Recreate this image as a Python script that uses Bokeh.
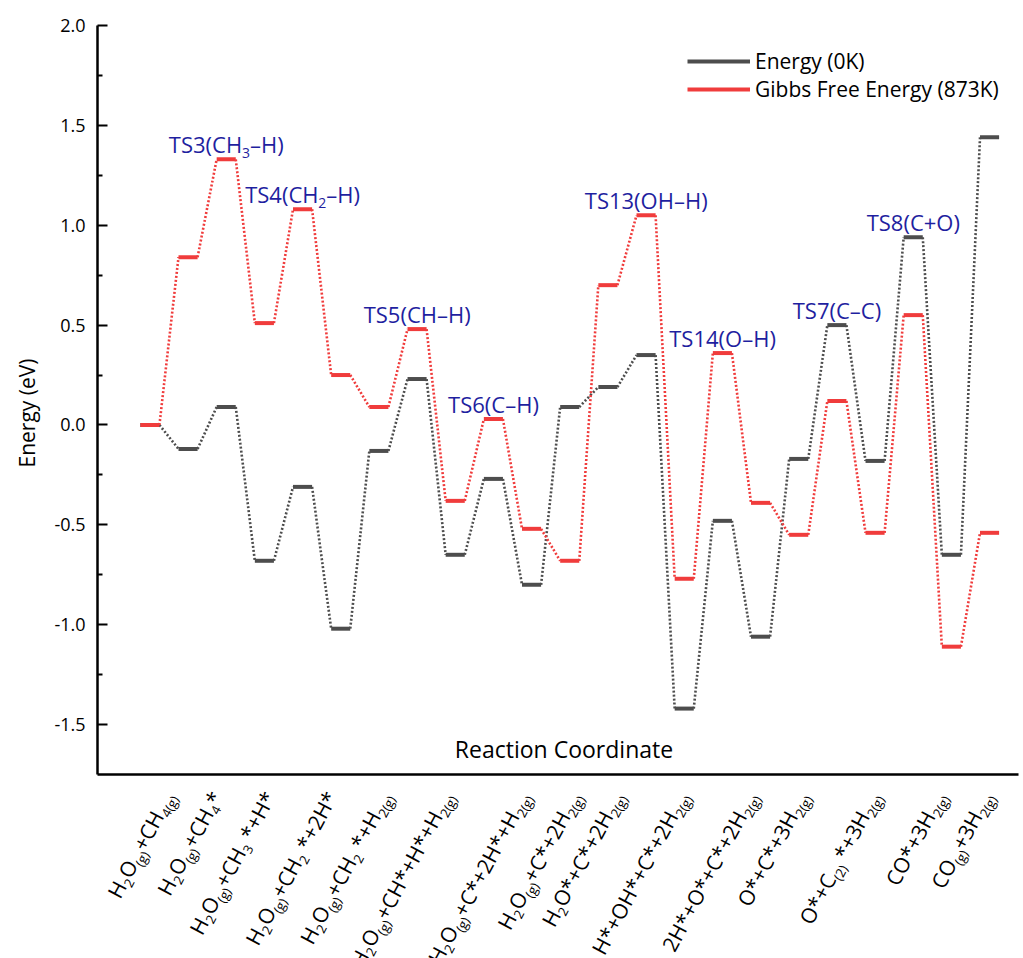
import re
import math
from bokeh.plotting import figure
from bokeh.layouts import column
from bokeh.models import Label, Legend, LegendItem, FixedTicker, Range1d, NumeralTickFormatter, Title
from bokeh.embed import file_html
from bokeh.resources import INLINE

# ---------------- data ----------------
energy_0k = [0.00, -0.12, 0.09, -0.68, -0.31, -1.02, -0.13, 0.23, -0.65, -0.27, -0.80,
             0.09, 0.19, 0.35, -1.42, -0.48, -1.06, -0.17, 0.50, -0.18, 0.94, -0.65, 1.44]
gibbs_873k = [0.00, 0.84, 1.33, 0.51, 1.08, 0.25, 0.09, 0.48, -0.38, 0.03, -0.52,
              -0.68, 0.70, 1.05, -0.77, 0.36, -0.39, -0.55, 0.12, -0.54, 0.55, -1.11, -0.54]

# state labels (_{...} = subscript) and where each label ends along the reaction coordinate
state_labels = [
    "H_{2}O_{(g)}+CH_{4(g)}",
    "H_{2}O_{(g)}+CH_{4}*",
    "H_{2}O_{(g)}+CH_{3} *+H*",
    "H_{2}O_{(g)}+CH_{2} *+2H*",
    "H_{2}O_{(g)}+CH_{2} *+H_{2(g)}",
    "H_{2}O_{(g)}+CH*+H*+H_{2(g)}",
    "H_{2}O_{(g)}+C*+2H*+H_{2(g)}",
    "H_{2}O_{(g)}+C*+2H_{2(g)}",
    "H_{2}O*+C*+2H_{2(g)}",
    "H*+OH*+C*+2H_{2(g)}",
    "2H*+O*+C*+2H_{2(g)}",
    "O*+C*+3H_{2(g)}",
    "O*+C_{(2)} *+3H_{2(g)}",
    "CO*+3H_{2(g)}",
    "CO_{(g)}+3H_{2(g)}",
]
label_pos = [0.65, 1.91, 3.30, 4.92, 6.33, 7.95, 9.96, 11.30, 12.42,
             14.12, 15.92, 17.26, 19.14, 20.86, 22.09]

ts_index = [2, 4, 7, 9, 13, 15, 18, 20]
ts_labels = ["TS3(CH_{3}\u2013H)", "TS4(CH_{2}\u2013H)", "TS5(CH\u2013H)", "TS6(C\u2013H)",
             "TS13(OH\u2013H)", "TS14(O\u2013H)", "TS7(C\u2013C)", "TS8(C+O)"]

y_ticks = [-1.5, -1.0, -0.5, 0.0, 0.5, 1.0, 1.5, 2.0]
series_names = ["Energy (0K)", "Gibbs Free Energy (873K)"]

# ---------------- style / layout ----------------
FONT = "Open Sans"
BLACK = "#4d4d4d"
RED = "#f03c3c"
BLUE = "#1f1fa0"
W = 1020
TOP_H, BOT_H = 776, 182
BL, BR, BT, BB = 95, 2, 25, 2
K = 38.25                      # pixels per reaction step
X0 = -1.3725
X1 = X0 + (W - BL - BR) / K
Y0, Y1 = -1.75, 2.0
HW = 0.25
BASE_FIX = 0.41                # baseline correction for horizontal labels (fraction of font size)
MID = 0.35                     # baseline -> text middle (fraction of font size)

# approximate Open Sans advance widths (em)
CW = {' ': 0.26, '(': 0.29, ')': 0.29, '*': 0.545, '+': 0.572, '\u2013': 0.5,
      'C': 0.635, 'H': 0.738, 'O': 0.781, 'S': 0.535, 'T': 0.556, 'g': 0.55}
for d in "0123456789":
    CW[d] = 0.572


def text_w(t, size):
    return sum(CW.get(ch, 0.56) for ch in t) * size


def parse(lab):
    parts = re.split(r'_\{([^}]*)\}', lab)
    out = []
    for k, part in enumerate(parts):
        for sp in re.split(r'( )', part):
            if sp:
                out.append((sp, k % 2 == 1))
    return out


p = figure(width=W, height=TOP_H, x_range=Range1d(X0, X1), y_range=Range1d(Y0, Y1),
           output_backend="svg", toolbar_location=None,
           min_border_left=BL, min_border_right=BR, min_border_top=BT, min_border_bottom=BB)
p.outline_line_color = None
p.xgrid.visible = False
p.ygrid.visible = False

# axes
p.xaxis.ticker = FixedTicker(ticks=[])
p.xaxis.major_tick_in = 0
p.xaxis.major_tick_out = 0
p.xaxis.minor_tick_in = 0
p.xaxis.minor_tick_out = 0
p.xaxis.major_label_standoff = 0
p.xaxis.axis_line_width = 2.5
p.xaxis.axis_line_color = "black"
p.xaxis.major_label_text_font_size = "0px"

p.yaxis.ticker = FixedTicker(ticks=y_ticks, minor_ticks=[t + 0.25 for t in y_ticks[:-1]])
p.yaxis.formatter = NumeralTickFormatter(format="0.0")
p.yaxis.axis_line_width = 2.5
p.yaxis.axis_line_color = "black"
p.yaxis.major_tick_in = 10
p.yaxis.major_tick_out = 0
p.yaxis.minor_tick_in = 5
p.yaxis.minor_tick_out = 0
p.yaxis.major_tick_line_width = 2
p.yaxis.minor_tick_line_width = 2
p.yaxis.major_tick_line_color = "black"
p.yaxis.minor_tick_line_color = "black"
p.yaxis.major_label_text_font = FONT
p.yaxis.major_label_text_font_size = "18px"
p.yaxis.major_label_text_color = "black"
p.yaxis.major_label_standoff = 12

p.add_layout(Title(text="Energy (eV)", align="left", offset=307, standoff=21,
                   text_font=FONT, text_font_size="21px", text_font_style="normal",
                   text_color="black"), "left")

# levels and dotted connectors
renderers = []
for vals, col in ((energy_0k, BLACK), (gibbs_873k, RED)):
    n = len(vals)
    p.segment(x0=[i + HW for i in range(n - 1)], y0=vals[:-1],
              x1=[i + 1 - HW for i in range(n - 1)], y1=vals[1:],
              line_color=col, line_width=2.6, line_dash="2 2")
    r = p.segment(x0=[i - HW for i in range(n)], y0=vals,
                  x1=[i + HW for i in range(n)], y1=vals,
                  line_color=col, line_width=4)
    renderers.append(r)


def place_flat(fig, x, y, pieces, fs, sfs, drop, color, dy):
    """horizontal text made of normal / subscript pieces, centred on x"""
    widths = [text_w(t, sfs if sub else fs) for t, sub in pieces]
    a = -sum(widths) / 2.0
    for (t, sub), w in zip(pieces, widths):
        size = sfs if sub else fs
        if t.strip():
            oy = dy + BASE_FIX * size - (drop if sub else 0)
            fig.add_layout(Label(x=x, y=y, x_offset=a, y_offset=oy, text=t,
                                 text_font=FONT, text_font_size=f"{size}px",
                                 text_color=color, text_align="left", text_baseline="alphabetic"))
        a += w


def place_rotated(fig, x, y, pieces, angle, fs, sfs, drop, color, dy):
    """rotated text made of pieces; (x, y)+dy is the end of its baseline; each piece anchored at its centre"""
    c, s = math.cos(angle), math.sin(angle)
    widths = [text_w(t, sfs if sub else fs) for t, sub in pieces]
    a = -sum(widths)
    for (t, sub), w in zip(pieces, widths):
        size = sfs if sub else fs
        if t.strip():
            along = a + w / 2.0
            perp = MID * size - (drop if sub else 0)
            ox = along * c - perp * s
            oy = dy + along * s + perp * c
            fig.add_layout(Label(x=x, y=y, x_offset=ox, y_offset=oy, text=t, angle=angle,
                                 text_font=FONT, text_font_size=f"{size}px",
                                 text_color=color, text_align="center", text_baseline="middle"))
        a += w


# transition-state labels
for i, lab in zip(ts_index, ts_labels):
    place_flat(p, i, max(energy_0k[i], gibbs_873k[i]), parse(lab), 22, 14, 5, BLUE, 6)

p.add_layout(Label(x=(X0 + X1) / 2, y=Y0, x_offset=6, y_offset=26, text="Reaction Coordinate",
                   text_font=FONT, text_font_size="23px", text_color="black",
                   text_align="center", text_baseline="alphabetic"))

legend = Legend(items=[LegendItem(label=series_names[0], renderers=[renderers[0]]),
                       LegendItem(label=series_names[1], renderers=[renderers[1]])],
                location=(590, 671), orientation="vertical",
                border_line_color=None, background_fill_alpha=0,
                padding=0, margin=0, spacing=-4, glyph_width=63, glyph_height=20,
                label_standoff=5, label_text_font=FONT, label_text_font_size="21px",
                label_text_color="black")
p.add_layout(legend)

# strip below the axis holding the rotated state labels (same frame and scale as the plot)
q = figure(width=W, height=BOT_H, x_range=Range1d(X0, X1), y_range=Range1d(0, 1),
           output_backend="svg", toolbar_location=None, x_axis_location=None, y_axis_location=None,
           min_border_left=BL, min_border_right=BR, min_border_top=0, min_border_bottom=0)
q.outline_line_color = None
q.xgrid.visible = False
q.ygrid.visible = False

theta = math.radians(62)
for lab, pos in zip(state_labels, label_pos):
    place_rotated(q, pos, 1.0, parse(lab), theta, 21, 13, 5, "black", -20)

layout = column(p, q, spacing=0)
open("out.html", "w").write(file_html(layout, INLINE))
